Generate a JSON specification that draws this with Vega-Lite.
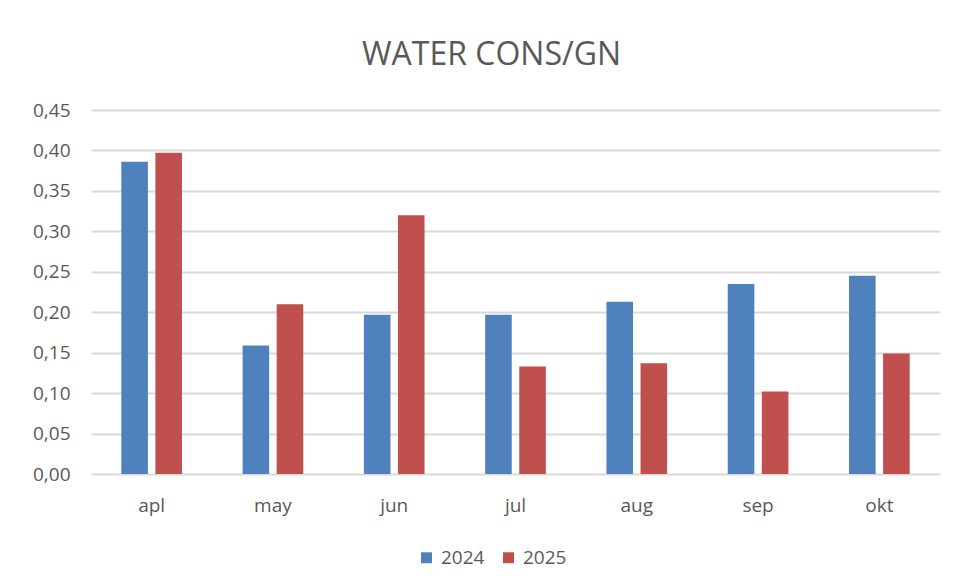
{
  "$schema": "https://vega.github.io/schema/vega-lite/v6.json",
  "width": 849,
  "height": 364,
  "autosize": {"type": "none"},
  "padding": {"left": 91, "top": 110, "right": 17, "bottom": 114},
  "background": "white",
  "config": {
    "locale": {"number": {"decimal": ",", "thousands": ".", "grouping": [3], "currency": ["", ""]}},
    "view": {"stroke": null},
    "font": "Open Sans"
  },
  "title": {
    "text": "WATER CONS/GN",
    "fontSize": 32,
    "fontWeight": "normal",
    "color": "#595959",
    "anchor": "middle",
    "frame": "group",
    "offset": 29,
    "dx": -24,
    "font": "Open Sans"
  },
  "data": {
    "values": [
      {"month": "apl", "year": "2024", "value": 0.386},
      {"month": "apl", "year": "2025", "value": 0.397},
      {"month": "may", "year": "2024", "value": 0.159},
      {"month": "may", "year": "2025", "value": 0.210},
      {"month": "jun", "year": "2024", "value": 0.197},
      {"month": "jun", "year": "2025", "value": 0.320},
      {"month": "jul", "year": "2024", "value": 0.197},
      {"month": "jul", "year": "2025", "value": 0.133},
      {"month": "aug", "year": "2024", "value": 0.213},
      {"month": "aug", "year": "2025", "value": 0.137},
      {"month": "sep", "year": "2024", "value": 0.235},
      {"month": "sep", "year": "2025", "value": 0.102},
      {"month": "okt", "year": "2024", "value": 0.245},
      {"month": "okt", "year": "2025", "value": 0.149}
    ]
  },
  "mark": {"type": "bar"},
  "encoding": {
    "x": {
      "field": "month",
      "type": "nominal",
      "sort": ["apl", "may", "jun", "jul", "aug", "sep", "okt"],
      "scale": {"paddingInner": 0.5, "paddingOuter": 0.25},
      "axis": {
        "title": null,
        "labelAngle": 0,
        "labelFontSize": 19,
        "labelColor": "#595959",
        "labelPadding": 22,
        "domain": false,
        "ticks": false,
        "grid": false
      }
    },
    "xOffset": {"field": "year", "type": "nominal", "scale": {"paddingInner": 0.22}},
    "y": {
      "field": "value",
      "type": "quantitative",
      "scale": {"domain": [0, 0.45], "nice": false},
      "axis": {
        "title": null,
        "values": [0, 0.05, 0.1, 0.15, 0.2, 0.25, 0.3, 0.35, 0.4, 0.45],
        "format": ".2f",
        "labelFontSize": 19,
        "labelColor": "#595959",
        "labelPadding": 21,
        "domain": false,
        "ticks": false,
        "gridColor": "#D9D9D9",
        "gridWidth": 2
      }
    },
    "color": {
      "field": "year",
      "type": "nominal",
      "scale": {"domain": ["2024", "2025"], "range": ["#4F81BD", "#C0504D"]},
      "legend": {
        "title": null,
        "orient": "none",
        "legendX": 326,
        "legendY": 438,
        "direction": "horizontal",
        "symbolType": "square",
        "symbolSize": 120,
        "symbolStrokeWidth": 0,
        "labelFontSize": 19,
        "labelColor": "#595959",
        "labelOffset": 5,
        "columnPadding": 14
      }
    }
  }
}
